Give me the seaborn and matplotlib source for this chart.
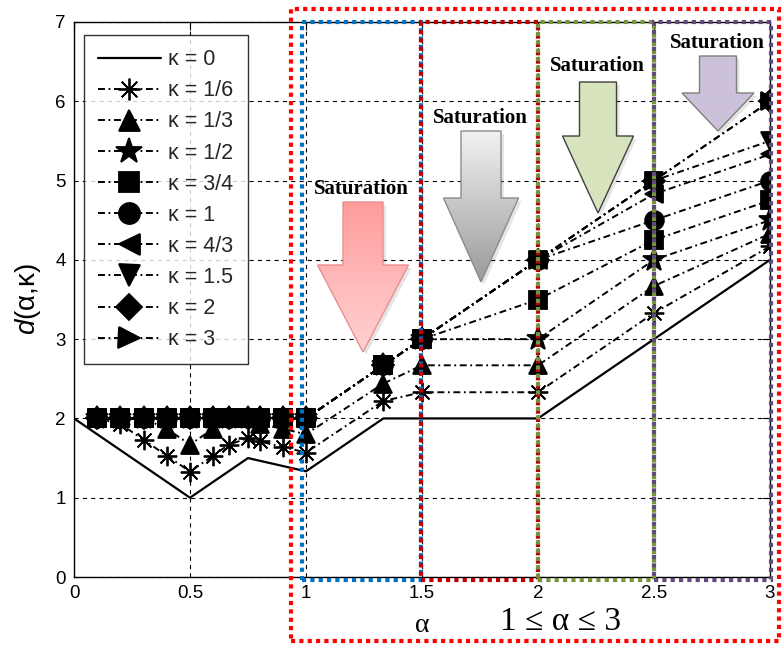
import numpy as np
import matplotlib
matplotlib.use("Agg")
import matplotlib.pyplot as plt
import seaborn as sns
from matplotlib.patches import Rectangle, Polygon
from matplotlib.lines import Line2D

# ---------------- data ----------------
alpha_k0 = [0, 0.5, 0.75, 1, 4/3, 1.5, 2, 2.5, 3]
d_k0 = [2, 1, 1.5, 1.333, 2, 2, 2, 3, 4]

alpha = [0.1, 0.2, 0.3, 0.4, 0.5, 0.6, 2/3, 0.75, 0.8, 0.9, 1, 4/3, 1.5, 2, 2.5, 3]
d_k1_6 = [2, 1.93, 1.73, 1.53, 1.33, 1.53, 1.67, 1.75, 1.71, 1.64, 1.57, 2.22, 2.33, 2.33, 3.33, 4.17]
d_k1_3 = [2, 2, 2, 1.87, 1.67, 1.87, 2, 2, 1.93, 1.87, 1.8, 2.44, 2.67, 2.67, 3.67, 4.33]
d_k1_2 = [2, 2, 2, 2, 2, 2, 2, 2, 2, 2, 2, 2.67, 3, 3, 4, 4.5]
d_k3_4 = [2, 2, 2, 2, 2, 2, 2, 2, 2, 2, 2, 2.67, 3, 3.5, 4.25, 4.75]
d_k1 = [2, 2, 2, 2, 2, 2, 2, 2, 2, 2, 2, 2.67, 3, 4, 4.5, 5]
d_k4_3 = [2, 2, 2, 2, 2, 2, 2, 2, 2, 2, 2, 2.67, 3, 4, 4.83, 5.33]
d_k1_5 = [2, 2, 2, 2, 2, 2, 2, 2, 2, 2, 2, 2.67, 3, 4, 5, 5.5]
d_k2 = [2, 2, 2, 2, 2, 2, 2, 2, 2, 2, 2, 2.67, 3, 4, 5, 6]
d_k3 = [2, 2, 2, 2, 2, 2, 2, 2, 2, 2, 2, 2.67, 3, 4, 5, 6]

kappa_labels = ["κ = 0", "κ = 1/6", "κ = 1/3", "κ = 1/2", "κ = 3/4",
                "κ = 1", "κ = 4/3", "κ = 1.5", "κ = 2", "κ = 3"]
dashed_series = [d_k1_6, d_k1_3, d_k1_2, d_k3_4, d_k1, d_k4_3, d_k1_5, d_k2, d_k3]
markers = [(8, 2, 0), "^", "*", "s", "o", "<", "v", "D", ">"]
marker_sizes = [14, 13.5, 17, 12.5, 13.5, 13.5, 13.5, 11.5, 13.5]

xticks = [0, 0.5, 1, 1.5, 2, 2.5, 3]
xtick_labels = ["0", "0.5", "1", "1.5", "2", "2.5", "3"]
yticks = [0, 1, 2, 3, 4, 5, 6, 7]

# ---------------- style ----------------
sns.set_theme(style="white")
plt.rcParams["font.family"] = ["Liberation Sans", "DejaVu Sans"]
plt.rcParams["mathtext.fontset"] = "custom"
plt.rcParams["mathtext.it"] = "Liberation Sans:italic"
plt.rcParams["mathtext.rm"] = "Liberation Sans"
plt.rcParams["lines.scale_dashes"] = False

W, H = 783, 652
fig = plt.figure(figsize=(W / 100, H / 100), dpi=100)
fig.patch.set_facecolor("white")
ax = fig.add_axes([74 / W, 1 - 577 / H, 696 / W, 555 / H])
ax.set_facecolor("white")

dashdot = [5.0, 2.6, 1.3, 2.6]

handles = []
sns.lineplot(x=alpha_k0, y=d_k0, ax=ax, color="black", lw=1.6,
             estimator=None, sort=False, legend=False)
handles.append(Line2D([], [], color="black", lw=1.6))

for vals, mk, ms in zip(dashed_series, markers, marker_sizes):
    sns.lineplot(x=alpha, y=vals, ax=ax, color="black", lw=1.4,
                 marker=mk, markersize=ms, markerfacecolor="black",
                 markeredgecolor="black", markeredgewidth=1.3,
                 estimator=None, sort=False, legend=False)
    line = ax.lines[-1]
    line.set_dashes(dashdot)
    h = Line2D([], [], color="black", lw=1.4, marker=mk, markersize=ms * 1.12,
               markerfacecolor="black", markeredgecolor="black", markeredgewidth=1.3)
    h.set_dashes(dashdot)
    handles.append(h)

ax.set_xlim(0, 3)
ax.set_ylim(0, 7)
ax.set_xticks(xticks)
ax.set_xticklabels(xtick_labels)
ax.set_yticks(yticks)
ax.tick_params(axis="both", which="both", direction="in", length=6, width=0.8,
               top=True, right=True, labelsize=13.5, colors="black", pad=6)
for sp in ax.spines.values():
    sp.set_color("black")
    sp.set_linewidth(1.0)
ax.grid(True, color="black", lw=0.8, linestyle=(0, (3, 3)))
ax.set_axisbelow(True)

ax.set_ylabel(r"$d$(α,κ)", fontsize=20, color="black")
ax.yaxis.set_label_coords(-0.045, 0.5)

leg = ax.legend(handles, kappa_labels, loc="upper left",
                bbox_to_anchor=(10 / 696, 1 - 13 / 555), borderaxespad=0,
                fontsize=15.5, frameon=True, fancybox=False, handlelength=2.9,
                handletextpad=0.35, labelspacing=0.47, borderpad=0.66)
leg.get_frame().set_edgecolor("black")
leg.get_frame().set_linewidth(1.0)

# ---------------- dotted region frames ----------------
def dotted_frame(x0, x1, y0, y1, color, lw):
    r = Rectangle((x0, y0), x1 - x0, y1 - y0, fill=False, edgecolor=color, lw=lw,
                  linestyle=(0, (lw, lw)), transform=ax.transData, clip_on=False,
                  zorder=20)
    r.set_capstyle("butt")
    ax.add_patch(r)

dotted_frame(0.984, 1.497, -0.04, 7.0, "#0070C0", 3.0)
dotted_frame(1.497, 2.0, -0.04, 7.0, "#C00000", 3.0)
dotted_frame(2.0, 2.5, -0.04, 7.0, "#77933C", 3.0)
dotted_frame(2.5, 3.006, -0.04, 7.0, "#604A7B", 3.0)
dotted_frame(0.935, 3.039, -0.81, 7.16, "#FF0000", 3.0)

# ---------------- overlay in pixel coordinates ----------------
ov = fig.add_axes([0, 0, 1, 1], zorder=30)
ov.set_xlim(0, W)
ov.set_ylim(H, 0)
ov.axis("off")
ov.patch.set_alpha(0)


def block_arrow(cx, shaft_w, top, neck, head_w, tip, c_top, c_bot, edge):
    pts = [(cx - shaft_w / 2, top), (cx + shaft_w / 2, top), (cx + shaft_w / 2, neck),
           (cx + head_w / 2, neck), (cx, tip), (cx - head_w / 2, neck),
           (cx - shaft_w / 2, neck)]
    # soft shadow
    sh = Polygon([(x + 3, y + 3) for x, y in pts], closed=True, facecolor="#000000",
                 alpha=0.10, edgecolor="none")
    ov.add_patch(sh)
    poly = Polygon(pts, closed=True, facecolor="none", edgecolor=edge, lw=1.0)
    ov.add_patch(poly)
    c0 = np.array(matplotlib.colors.to_rgb(c_top))
    c1 = np.array(matplotlib.colors.to_rgb(c_bot))
    t = np.linspace(0, 1, 256)[:, None]
    grad = (c0[None, :] * (1 - t) + c1[None, :] * t)[:, None, :]
    im = ov.imshow(grad, extent=(cx - head_w / 2, cx + head_w / 2, tip, top),
                   aspect="auto", zorder=1, interpolation="bilinear")
    im.set_clip_path(poly)
    poly.set_zorder(2)


block_arrow(363, 40, 202, 265, 91, 352, "#FF9C9C", "#FFD2D2", "#E89090")
block_arrow(481, 40, 131, 198, 75, 282, "#F2F2F2", "#9A9A9A", "#8C8C8C")
block_arrow(598, 37, 82, 136, 71, 213, "#D7E4BD", "#D7E4BD", "#404040")
block_arrow(718, 37, 56, 93, 72, 131, "#CCC1DA", "#CCC1DA", "#7F7F7F")

sat_kw = dict(family="Liberation Serif", weight="bold", fontsize=15, ha="center",
              va="center", color="black", zorder=5)
ov.text(361, 189, "Saturation", **sat_kw)
ov.text(480, 118, "Saturation", **sat_kw)
ov.text(597, 66, "Saturation", **sat_kw)
ov.text(717, 43, "Saturation", **sat_kw)

ov.text(422, 625, "α", family="Liberation Serif", fontsize=20, ha="center",
        va="center", color="black")
ov.text(561, 622, "1 ≤ α ≤ 3", family=["Liberation Serif", "DejaVu Serif"],
        fontsize=24, ha="center", va="center", color="black")

fig.savefig("out.png", dpi=100)
